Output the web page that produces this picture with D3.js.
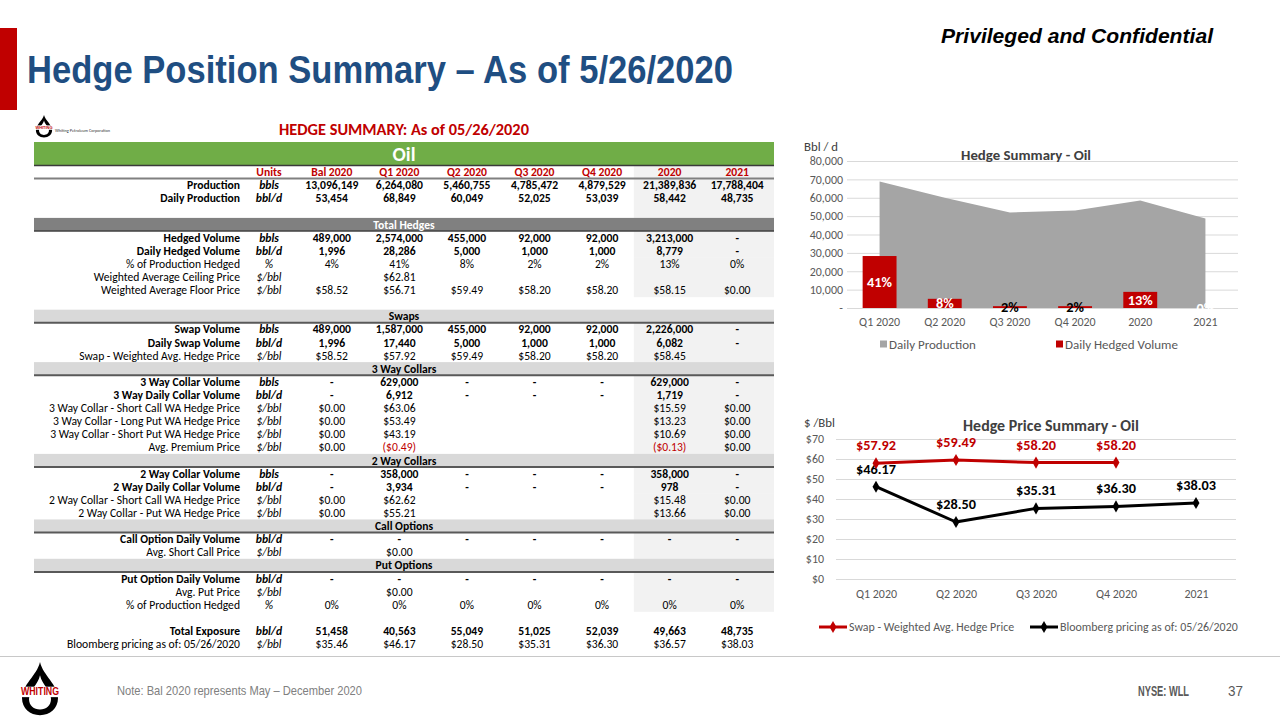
<!DOCTYPE html>
<html><head><meta charset="utf-8">
<script src="https://cdn.jsdelivr.net/npm/d3@7"></script>
<style>body{margin:0;background:#fff}svg{display:block}</style>
</head><body>
<svg id="c" width="1280" height="720"></svg>
<script>
// ---------------- DATA ----------------
const columns = ["Units","Bal 2020","Q1 2020","Q2 2020","Q3 2020","Q4 2020","2020","2021"];
// [] = blank row, [title] = section header row
const tableRows = [
 ["Production","bbls","13,096,149","6,264,080","5,460,755","4,785,472","4,879,529","21,389,836","17,788,404"],
 ["Daily Production","bbl/d","53,454","68,849","60,049","52,025","53,039","58,442","48,735"],
 [],
 ["Total Hedges"],
 ["Hedged Volume","bbls","489,000","2,574,000","455,000","92,000","92,000","3,213,000","-"],
 ["Daily Hedged Volume","bbl/d","1,996","28,286","5,000","1,000","1,000","8,779","-"],
 ["% of Production Hedged","%","4%","41%","8%","2%","2%","13%","0%"],
 ["Weighted Average Ceiling Price","$/bbl","","$62.81","","","","",""],
 ["Weighted Average Floor Price","$/bbl","$58.52","$56.71","$59.49","$58.20","$58.20","$58.15","$0.00"],
 [],
 ["Swaps"],
 ["Swap Volume","bbls","489,000","1,587,000","455,000","92,000","92,000","2,226,000","-"],
 ["Daily Swap Volume","bbl/d","1,996","17,440","5,000","1,000","1,000","6,082","-"],
 ["Swap - Weighted Avg. Hedge Price","$/bbl","$58.52","$57.92","$59.49","$58.20","$58.20","$58.45",""],
 ["3 Way Collars"],
 ["3 Way Collar Volume","bbls","-","629,000","-","-","-","629,000","-"],
 ["3 Way Daily Collar Volume","bbl/d","-","6,912","-","-","-","1,719","-"],
 ["3 Way Collar - Short Call WA Hedge Price","$/bbl","$0.00","$63.06","","","","$15.59","$0.00"],
 ["3 Way Collar - Long Put WA Hedge Price","$/bbl","$0.00","$53.49","","","","$13.23","$0.00"],
 ["3 Way Collar - Short Put WA Hedge Price","$/bbl","$0.00","$43.19","","","","$10.69","$0.00"],
 ["Avg. Premium Price","$/bbl","$0.00","($0.49)","","","","($0.13)","$0.00"],
 ["2 Way Collars"],
 ["2 Way Collar Volume","bbls","-","358,000","-","-","-","358,000","-"],
 ["2 Way Daily Collar Volume","bbl/d","-","3,934","-","-","-","978","-"],
 ["2 Way Collar - Short Call WA Hedge Price","$/bbl","$0.00","$62.62","","","","$15.48","$0.00"],
 ["2 Way Collar - Put WA Hedge Price","$/bbl","$0.00","$55.21","","","","$13.66","$0.00"],
 ["Call Options"],
 ["Call Option Daily Volume","bbl/d","-","-","-","-","-","-","-"],
 ["Avg. Short Call Price","$/bbl","","$0.00","","","","",""],
 ["Put Options"],
 ["Put Option Daily Volume","bbl/d","-","-","-","-","-","-","-"],
 ["Avg. Put Price","$/bbl","","$0.00","","","","",""],
 ["% of Production Hedged","%","0%","0%","0%","0%","0%","0%","0%"],
 [],
 ["Total Exposure","bbl/d","51,458","40,563","55,049","51,025","52,039","49,663","48,735"],
 ["Bloomberg pricing as of: 05/26/2020","$/bbl","$35.46","$46.17","$28.50","$35.31","$36.30","$36.57","$38.03"]
];
const boldRows = ["Production","Daily Production","Hedged Volume","Daily Hedged Volume","Swap Volume","Daily Swap Volume",
 "3 Way Collar Volume","3 Way Daily Collar Volume","2 Way Collar Volume","2 Way Daily Collar Volume",
 "Call Option Daily Volume","Put Option Daily Volume","Total Exposure"];

const volCats = ["Q1 2020","Q2 2020","Q3 2020","Q4 2020","2020","2021"];
const dailyProduction = [68849,60049,52025,53039,58442,48735];
const dailyHedged = [28286,5000,1000,1000,8779,0];
const hedgedPct = ["41%","8%","2%","2%","13%","0%"];
const volTicks = [0,10000,20000,30000,40000,50000,60000,70000,80000];

const priceCats = ["Q1 2020","Q2 2020","Q3 2020","Q4 2020","2021"];
const swapPrice = [57.92,59.49,58.20,58.20,null];
const bloombergPrice = [46.17,28.50,35.31,36.30,38.03];
const priceTicks = [0,10,20,30,40,50,60,70];

// ---------------- SETUP ----------------
const svg = d3.select("#c");
const FONT = "Carlito, Lato, 'Open Sans', sans-serif";
const NARROW = "'Liberation Sans Narrow','Arial Narrow','Liberation Sans',Arial,sans-serif";
const RED = "#C00000";
const meas = svg.append("text").attr("x",-3000).attr("y",-3000).attr("font-family",FONT);
function fit(str, weight, target, style){
  meas.attr("font-weight",weight).attr("font-style",style||"normal").attr("font-size",100).text(str);
  return 100*target/meas.node().getComputedTextLength();
}

// ---------------- SLIDE CHROME ----------------
svg.append("rect").attr("x",0).attr("y",28).attr("width",17).attr("height",82).attr("fill",RED);
svg.append("text").attr("x",27).attr("y",83).attr("font-family",NARROW).attr("font-weight","bold")
  .attr("font-size",38).attr("fill","#1F4E82").attr("textLength",706).attr("lengthAdjust","spacingAndGlyphs")
  .text("Hedge Position Summary – As of 5/26/2020");
svg.append("text").attr("x",941).attr("y",43).attr("font-family",NARROW).attr("font-weight","bold")
  .attr("font-style","italic").attr("font-size",20).attr("fill","#000").attr("textLength",272)
  .attr("lengthAdjust","spacingAndGlyphs").text("Privileged and Confidential");
svg.append("line").attr("x1",0).attr("x2",1280).attr("y1",656.5).attr("y2",656.5).attr("stroke","#C8C8C8").attr("stroke-width",1);
svg.append("text").attr("x",117).attr("y",695).attr("font-family",NARROW).attr("font-size",13).attr("fill","#808080")
  .attr("textLength",245).attr("lengthAdjust","spacingAndGlyphs").text("Note: Bal 2020 represents May – December 2020");
svg.append("text").attr("x",1138).attr("y",696).attr("font-family",NARROW).attr("font-weight","bold").attr("font-size",15)
  .attr("fill","#595959").attr("textLength",51).attr("lengthAdjust","spacingAndGlyphs").text("NYSE: WLL");
svg.append("text").attr("x",1228).attr("y",696).attr("font-family",NARROW).attr("font-size",15)
  .attr("fill","#595959").attr("textLength",15).attr("lengthAdjust","spacingAndGlyphs").text("37");

// logo helper
function logo(g, s){
  g.append("path").attr("d","M20,0 C23,14 38,24 38,38 C38,49 30,56 20,56 C10,56 2,49 2,38 C2,24 17,14 20,0Z").attr("fill","#000");
  g.append("path").attr("d","M20,14 C22,24 31,30 31,39 C31,46 26,50 20,50 C14,50 9,46 9,39 C9,30 18,24 20,14Z").attr("fill","#fff");
  g.append("rect").attr("x",-1).attr("y",26).attr("width",42).attr("height",11).attr("fill","#fff");
  g.append("text").attr("x",20).attr("y",35).attr("text-anchor","middle").attr("font-family",NARROW)
    .attr("font-weight","bold").attr("font-size",11).attr("fill",RED).attr("textLength",38)
    .attr("lengthAdjust","spacingAndGlyphs").text("WHITING");
  g.attr("transform",s);
}
logo(svg.append("g"),"translate(20,662) scale(1,0.95)");
logo(svg.append("g"),"translate(35,115) scale(0.45,0.4)");
svg.append("text").attr("x",55).attr("y",132).attr("font-family",FONT).attr("font-size",4.8).attr("fill","#333")
  .attr("textLength",55).attr("lengthAdjust","spacingAndGlyphs").text("Whiting Petroleum Corporation");

// ---------------- TABLE ----------------
const tL = 34, tR = 774;
const fs = fit("3 Way Collar - Short Call WA Hedge Price","normal",191);
const rowH = 13.1;
const rowY = d3.scaleLinear().domain([0,36]).range([172,644]);
const colX = d3.scaleBand().domain(columns.slice(1)).range([298,771]);
const colC = c => colX(c) + colX.bandwidth()/2;
const unitX = 269;
const T = svg.append("g").attr("font-family",FONT);

T.append("text").attr("x",404).attr("y",135).attr("text-anchor","middle").attr("font-weight","bold")
  .attr("font-size",fit("HEDGE SUMMARY: As of 05/26/2020","bold",250)).attr("fill",RED).text("HEDGE SUMMARY: As of 05/26/2020");

// shading of annual columns
const exposureIdx = tableRows.findIndex(r=>r[0]==="Total Exposure")+1;
const shadeX = colX("2020") - 2;
tableRows.forEach((r,i)=>{
  const ri = i+1;
  const shade = (ri<=3) || (r.length>1 && ri<exposureIdx);
  if(shade) T.append("rect").attr("x",shadeX).attr("y",rowY(ri)-rowH/2).attr("width",tR-shadeX).attr("height",rowH+0.6).attr("fill","#F2F2F2");
});
T.append("rect").attr("x",shadeX).attr("y",rowY(0)-rowH/2).attr("width",tR-shadeX).attr("height",rowH).attr("fill","#F2F2F2");

// green Oil bar
T.append("rect").attr("x",tL).attr("y",142).attr("width",tR-tL).attr("height",23.5).attr("fill","#70AD47");
T.append("line").attr("x1",tL).attr("x2",tR).attr("y1",165.5).attr("y2",165.5).attr("stroke","#3A3A3A").attr("stroke-width",1.5);
T.append("text").attr("x",404).attr("y",154).attr("dy","0.35em").attr("text-anchor","middle").attr("font-weight","bold")
  .attr("font-size",fit("Oil","bold",23)).attr("fill","#fff").text("Oil");

// header row
columns.forEach((c,j)=>{
  T.append("text").attr("x", j===0?unitX:colC(c)).attr("y",rowY(0)).attr("dy","0.35em").attr("text-anchor","middle")
    .attr("font-weight","bold").attr("font-size",fs).attr("fill",RED).text(c);
});
T.append("line").attr("x1",tL).attr("x2",tR).attr("y1",rowY(0)+rowH/2).attr("y2",rowY(0)+rowH/2).attr("stroke","#808080").attr("stroke-width",2);

let secCount = 0;
tableRows.forEach((r,i)=>{
  const y = rowY(i+1);
  if(r.length===0) return;
  if(r.length===1){
    const first = secCount===0; secCount++;
    T.append("rect").attr("x",tL).attr("y",y-rowH/2).attr("width",tR-tL).attr("height",rowH).attr("fill",first?"#808080":"#D9D9D9");
    T.append("line").attr("x1",tL).attr("x2",tR).attr("y1",y+rowH/2).attr("y2",y+rowH/2).attr("stroke",first?"#404040":"#595959").attr("stroke-width",first?1.5:2);
    T.append("text").attr("x",404).attr("y",y).attr("dy","0.35em").attr("text-anchor","middle").attr("font-weight","bold")
      .attr("font-size",fs).attr("fill",first?"#fff":"#000").text(r[0]);
    return;
  }
  const bold = boldRows.includes(r[0]);
  const w = bold?"bold":"normal";
  T.append("text").attr("x",240).attr("y",y).attr("dy","0.35em").attr("text-anchor","end").attr("font-weight",w)
    .attr("font-size",fs).attr("fill","#000").text(r[0]);
  T.append("text").attr("x",unitX).attr("y",y).attr("dy","0.35em").attr("text-anchor","middle").attr("font-weight",w)
    .attr("font-style","italic").attr("font-size",fs).attr("fill","#000").text(r[1]);
  r.slice(2).forEach((v,k)=>{
    if(v==="") return;
    T.append("text").attr("x",colC(columns[k+1])).attr("y",y).attr("dy","0.35em").attr("text-anchor","middle")
      .attr("font-weight",w).attr("font-size",fs).attr("fill", v.startsWith("(")?RED:"#000").text(v);
  });
});

// ---------------- CHART 1: Hedge Summary - Oil ----------------
const axFs = fit("Q1 2020","normal",41);
const C1 = svg.append("g").attr("font-family",FONT);
const x1 = d3.scaleBand().domain(volCats).range([847,1238]).paddingInner(0.48).paddingOuter(0.24);
const y1 = d3.scaleLinear().domain([0,80000]).range([308,161]);
const c1 = c => x1(c)+x1.bandwidth()/2;

const ya1 = C1.append("g").attr("transform","translate(847,0)")
  .call(d3.axisLeft(y1).tickValues(volTicks).tickSize(-391).tickPadding(4).tickFormat(v=>v===0?"-":d3.format(",")(v)));
ya1.select(".domain").remove();
ya1.selectAll("line").attr("stroke","#D9D9D9");
ya1.selectAll("text").attr("font-family",FONT).attr("font-size",axFs).attr("fill","#595959");

C1.append("path").datum(dailyProduction)
  .attr("d",d3.area().x((d,i)=>c1(volCats[i])).y0(y1(0)).y1(d=>y1(d)))
  .attr("fill","#A5A5A5");
C1.selectAll("rect.bar").data(dailyHedged).join("rect").attr("class","bar")
  .attr("x",(d,i)=>x1(volCats[i])).attr("width",x1.bandwidth())
  .attr("y",d=>y1(d)).attr("height",d=>y1(0)-y1(d)).attr("fill",RED);
const lblFs = fit("41%","bold",25);
C1.selectAll("text.lbl").data(dailyHedged).join("text").attr("class","lbl")
  .attr("x",(d,i)=>c1(volCats[i])).attr("y",d=>(y1(d)+y1(0))/2).attr("dy","0.35em").attr("text-anchor","middle")
  .attr("font-weight","bold").attr("font-size",lblFs)
  .attr("fill",d=>(d>0 && y1(0)-y1(d)<6)?"#000":"#fff").text((d,i)=>hedgedPct[i]);

const xa1 = C1.append("g").attr("transform","translate(0,308)").call(d3.axisBottom(x1).tickSize(0).tickPadding(10));
xa1.select(".domain").remove();
xa1.selectAll("text").attr("font-family",FONT).attr("font-size",axFs).attr("fill","#595959");

C1.append("text").attr("x",1026).attr("y",155).attr("dy","0.35em").attr("text-anchor","middle").attr("font-weight","bold")
  .attr("font-size",fit("Hedge Summary - Oil","bold",130)).attr("fill","#404040").text("Hedge Summary - Oil");
C1.append("text").attr("x",804).attr("y",147).attr("dy","0.35em").attr("font-size",fit("Bbl / d","normal",34))
  .attr("fill","#404040").text("Bbl / d");
const lgFs1 = fit("Daily Hedged Volume","normal",113);
[[880,"#A5A5A5","Daily Production"],[1056,RED,"Daily Hedged Volume"]].forEach(([x,col,t])=>{
  C1.append("rect").attr("x",x).attr("y",340.5).attr("width",7).attr("height",7).attr("fill",col);
  C1.append("text").attr("x",x+9).attr("y",344).attr("dy","0.35em").attr("font-size",lgFs1).attr("fill","#595959").text(t);
});

// ---------------- CHART 2: Hedge Price Summary - Oil ----------------
const C2 = svg.append("g").attr("font-family",FONT);
const x2 = d3.scalePoint().domain(priceCats).range([836,1236]).padding(0.5);
const y2 = d3.scaleLinear().domain([0,70]).range([579,439]);
const ya2 = C2.append("g").attr("transform","translate(836,0)")
  .call(d3.axisLeft(y2).tickValues(priceTicks).tickSize(-400).tickPadding(12).tickFormat(v=>"$"+v));
ya2.select(".domain").remove();
ya2.selectAll("line").attr("stroke","#D9D9D9");
ya2.selectAll("text").attr("font-family",FONT).attr("font-size",axFs).attr("fill","#595959");
const xa2 = C2.append("g").attr("transform","translate(0,579)").call(d3.axisBottom(x2).tickSize(0).tickPadding(11));
xa2.select(".domain").remove();
xa2.selectAll("text").attr("font-family",FONT).attr("font-size",axFs).attr("fill","#595959");

const dFs = fit("$57.92","bold",40);
const diamond = d3.symbol(d3.symbolDiamond).size(42);
[[bloombergPrice,"#000"],[swapPrice,RED]].forEach(([vals,col])=>{
  C2.append("path").datum(vals)
    .attr("d",d3.line().defined(d=>d!=null).x((d,i)=>x2(priceCats[i])).y(d=>y2(d)))
    .attr("fill","none").attr("stroke",col).attr("stroke-width",3).attr("stroke-linejoin","round");
  vals.forEach((v,i)=>{
    if(v==null) return;
    C2.append("path").attr("d",diamond).attr("transform",`translate(${x2(priceCats[i])},${y2(v)})`).attr("fill",col);
    C2.append("text").attr("x",x2(priceCats[i])).attr("y",y2(v)-18).attr("dy","0.35em").attr("text-anchor","middle")
      .attr("font-weight","bold").attr("font-size",dFs).attr("fill",col).text("$"+v.toFixed(2));
  });
});
C2.append("text").attr("x",1051).attr("y",425).attr("dy","0.35em").attr("text-anchor","middle").attr("font-weight","bold")
  .attr("font-size",fit("Hedge Price Summary - Oil","bold",176)).attr("fill","#404040").text("Hedge Price Summary - Oil");
C2.append("text").attr("x",804).attr("y",423).attr("dy","0.35em").attr("font-size",fit("$ /Bbl","normal",31))
  .attr("fill","#404040").text("$ /Bbl");
const lgFs2 = fit("Bloomberg pricing as of: 05/26/2020","normal",178);
[[819,RED,"Swap - Weighted Avg. Hedge Price"],[1030,"#000","Bloomberg pricing as of: 05/26/2020"]].forEach(([x,col,t])=>{
  C2.append("line").attr("x1",x).attr("x2",x+28).attr("y1",627).attr("y2",627).attr("stroke",col).attr("stroke-width",3);
  C2.append("path").attr("d",diamond).attr("transform",`translate(${x+14},627)`).attr("fill",col);
  C2.append("text").attr("x",x+30).attr("y",627).attr("dy","0.35em").attr("font-size",lgFs2).attr("fill","#595959").text(t);
});
meas.remove();
</script>
</body></html>
